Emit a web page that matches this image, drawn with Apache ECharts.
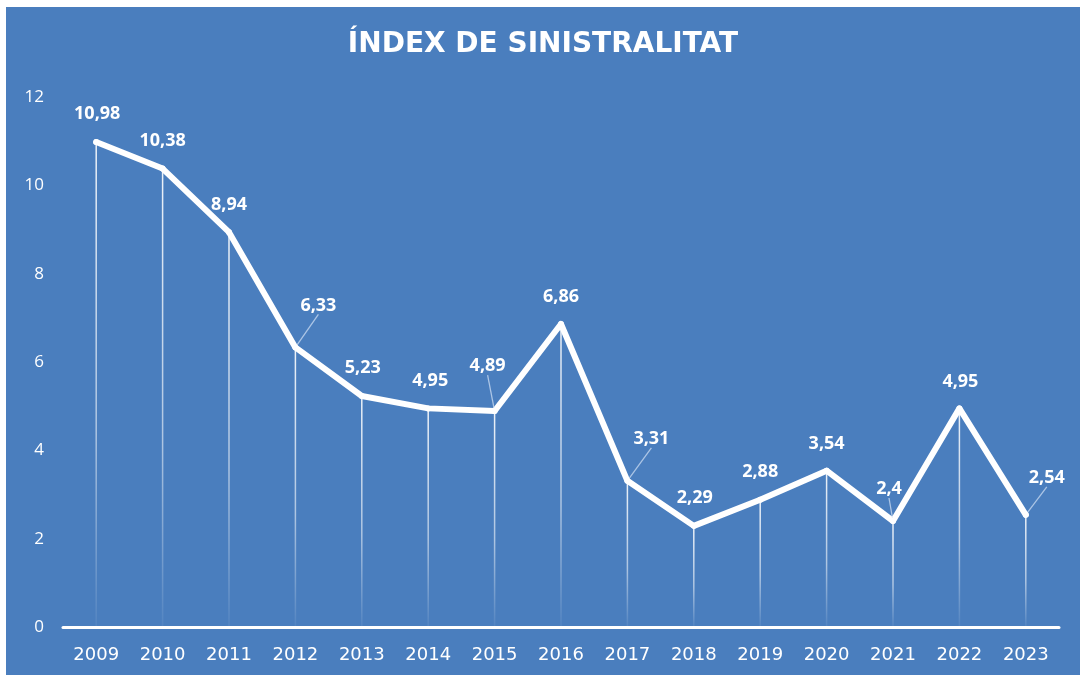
<!DOCTYPE html>
<html>
<head>
<meta charset="utf-8">
<script src="https://cdn.jsdelivr.net/npm/echarts@6/dist/echarts.min.js"></script>
<style>
  html, body { margin: 0; padding: 0; background: #ffffff; width: 1080px; height: 675px; overflow: hidden; }
  #chart { position: absolute; left: 6px; top: 7px; width: 1074px; height: 668px; }
</style>
</head>
<body>
<div id="chart"></div>
<script>
// ---- data ----
const titleText = 'ÍNDEX DE SINISTRALITAT';
const years = ['2009','2010','2011','2012','2013','2014','2015','2016','2017','2018','2019','2020','2021','2022','2023'];
const values = [10.98, 10.38, 8.94, 6.33, 5.23, 4.95, 4.89, 6.86, 3.31, 2.29, 2.88, 3.54, 2.4, 4.95, 2.54];
const yTicks = { min: 0, max: 12, interval: 2 };

// ---- label layout (pixel offsets from point to label centre) ----
const labelDx = [1, 0, 0, 23, 1, 2, -7, 0, 24, 1, 0, 0, -4, 1, 21];
const labelDy = [-28, -28, -27, -42, -28, -28, -45, -27, -42, -28, -28, -27, -32, -27, -37];
const leaderIdx = [3, 6, 8, 12, 14];

const fmt = v => String(v).replace('.', ',');

const lineData = values.map((v, i) => ({
  value: v,
  labelLine: { show: leaderIdx.indexOf(i) >= 0 }
}));

const chart = echarts.init(document.getElementById('chart'), null, { renderer: 'canvas' });
chart.setOption({
  backgroundColor: '#4A7EBE',
  animation: false,
  title: {
    text: titleText,
    left: 'center',
    top: 19,
    textStyle: { color: '#ffffff', fontFamily: 'DejaVu Sans', fontWeight: 'bold', fontSize: 28 }
  },
  grid: { left: 57, right: 21, top: 90, bottom: 48, containLabel: false },
  xAxis: {
    type: 'category',
    data: years,
    boundaryGap: true,
    axisLine: { show: true, lineStyle: { color: '#ffffff', width: 3 } },
    axisTick: { show: false },
    axisLabel: { color: '#ffffff', fontFamily: 'DejaVu Sans', fontSize: 18, margin: 19 },
    splitLine: { show: false }
  },
  yAxis: {
    type: 'value',
    min: yTicks.min, max: yTicks.max, interval: yTicks.interval,
    axisLine: { show: false },
    axisTick: { show: false },
    splitLine: { show: false },
    axisLabel: { color: '#ffffff', fontFamily: 'Open Sans', fontSize: 17, margin: 19 }
  },
  series: [
    {
      type: 'bar',
      data: values,
      barWidth: 1.5,
      silent: true,
      itemStyle: {
        color: new echarts.graphic.LinearGradient(0, 0, 0, 1, [
          { offset: 0, color: 'rgba(255,255,255,0.9)' },
          { offset: 0.6, color: 'rgba(255,255,255,0.55)' },
          { offset: 1, color: 'rgba(255,255,255,0.05)' }
        ])
      },
      z: 1
    },
    {
      type: 'line',
      data: lineData,
      z: 3,
      symbol: 'circle',
      symbolSize: 6,
      showSymbol: true,
      itemStyle: { color: '#ffffff' },
      lineStyle: { color: '#ffffff', width: 6, cap: 'round', join: 'round' },
      label: {
        show: true,
        position: 'top',
        color: '#ffffff',
        fontFamily: 'Open Sans',
        fontWeight: 'bold',
        fontSize: 18,
        formatter: p => fmt(p.value)
      },
      labelLine: {
        show: false,
        lineStyle: { color: 'rgba(225,235,250,0.65)', width: 1.3 }
      },
      labelLayout: function (params) {
        const i = params.dataIndex;
        const r = params.rect;
        return {
          x: r.x + r.width / 2 + labelDx[i],
          y: r.y + r.height / 2 + labelDy[i],
          align: 'center',
          verticalAlign: 'middle'
        };
      }
    }
  ]
});
</script>
</body>
</html>
